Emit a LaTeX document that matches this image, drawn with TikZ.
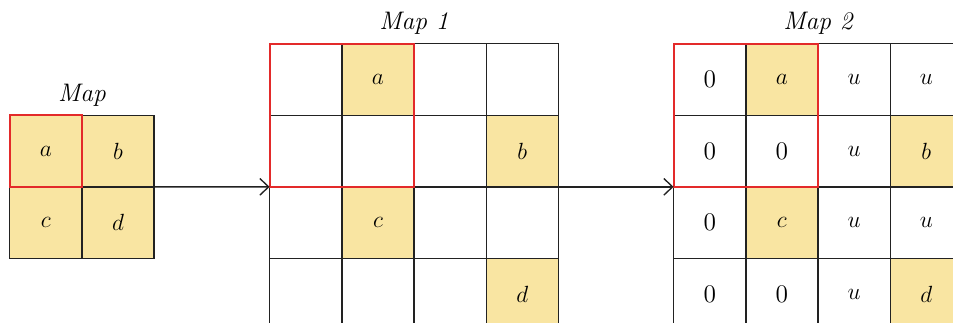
\documentclass[tikz,border=0pt]{standalone}
\usepackage{tikz}
\usetikzlibrary{arrows.meta,positioning,matrix}

\definecolor{cellfill}{HTML}{F9E5A2}
\definecolor{framered}{HTML}{E32A2A}
\definecolor{gridline}{HTML}{222222}

\begin{document}
\begin{tikzpicture}[
		x=1.3cm,y=1.289cm,
		>={Straight Barb[length=4.5pt,width=8.5pt]},
		every node/.style={font=\fontsize{13}{15}\selectfont},
		cell/.style={draw=gridline, line width=0.7pt, minimum width=1.3cm,
			minimum height=1.289cm, inner sep=0pt, outer sep=0pt, anchor=center},
		hit/.style={cell, fill=cellfill},
		grid/.style={matrix of nodes, nodes in empty cells, inner sep=0pt,
			outer sep=0pt, column sep=-0.7pt, row sep=-0.7pt, nodes={cell}},
		redbox/.style={draw=framered, line width=1pt},
		title/.style={font=\fontsize{13}{15}\selectfont\itshape, inner sep=0pt},
		link/.style={->, draw=gridline, line width=0.7pt}
		]
		
		% page window (the right and bottom grids run off the edge)
		\useasboundingbox (0,0) rectangle (13.199,-4.511);
		
		% =========================
		% Left: the small map
		% =========================
		\matrix (mapL) [grid, anchor=north west] at (0.125,-1.6) {
			|[hit]| $a$ & |[hit]| $b$ \\
			|[hit]| $c$ & |[hit]| $d$ \\
		};
		\draw[redbox] (mapL-1-1.north west) rectangle (mapL-1-1.south east);
		\node[title, above=4pt of mapL.north] (tL) {Map};
		
		% =========================
		% Middle: map 1
		% =========================
		\matrix (mapA) [grid, anchor=north west] at (3.725,-0.6) {
			& |[hit]| $a$ & & \\
			& & & |[hit]| $b$ \\
			& |[hit]| $c$ & & \\
			& & & |[hit]| $d$ \\
		};
		\draw[redbox] (mapA-1-1.north west) rectangle (mapA-2-2.south east);
		\node[title, above=4pt of mapA.north] (tA) {Map 1};
		
		% =========================
		% Right: map 2
		% =========================
		\matrix (mapB) [grid, anchor=north west] at (9.32,-0.6) {
			0 & |[hit]| $a$ & $u$ & $u$ \\
			0 & 0 & $u$ & |[hit]| $b$ \\
			0 & |[hit]| $c$ & $u$ & $u$ \\
			0 & 0 & $u$ & |[hit]| $d$ \\
		};
		\draw[redbox] (mapB-1-1.north west) rectangle (mapB-2-2.south east);
		\node[title, above=4pt of mapB.north] (tB) {Map 2};
		
		% arrows between the maps
		\draw[link] (mapL-1-2.south east) -- (mapA-2-1.south west);
		\draw[link] (mapA-2-4.south east) -- (mapB-2-1.south west);
	\end{tikzpicture}
\end{document}
